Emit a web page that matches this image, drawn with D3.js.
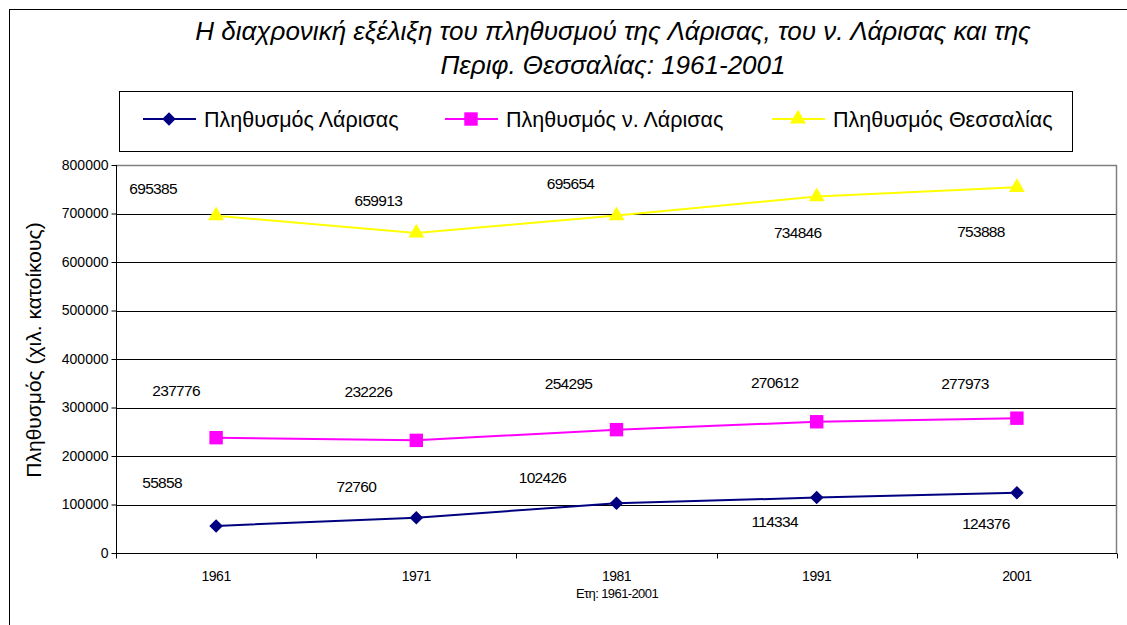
<!DOCTYPE html>
<html>
<head>
<meta charset="utf-8">
<script src="https://cdn.jsdelivr.net/npm/d3@7"></script>
<style>
  body { margin: 0; background: #fff; }
  svg text { font-family: "Liberation Sans", Arial, sans-serif; fill: #000; }
</style>
</head>
<body>
<div id="chart"></div>
<script>
// --- Data ---
const years = ["1961", "1971", "1981", "1991", "2001"];
const larisa = [55858, 72760, 102426, 114334, 124376];
const nomosLarisa = [237776, 232226, 254295, 270612, 277973];
const thessalia = [695385, 659913, 695654, 734846, 753888];
const seriesNames = ["Πληθυσμός Λάρισας", "Πληθυσμός ν. Λάρισας", "Πληθυσμός Θεσσαλίας"];
const yTicks = [0, 100000, 200000, 300000, 400000, 500000, 600000, 700000, 800000];

// label offsets (dx, dy) from each point, as placed in the original chart
const labelOffsets = [
    [[-54, -43], [-60, -31], [-74, -26], [-42, 24], [-31, 31]],
    [[-40, -47], [-48, -49], [-48, -46], [-42, -39], [-52, -35]],
    [[-63, -27], [-38, -32], [-46, -32], [-19, 36], [-36, 44]]
];

// --- Setup ---
const W = 1127, H = 625;
const plot = { left: 116, right: 1117, top: 165, bottom: 553 };
const colors = ["#000080", "#ff00ff", "#ffff00"];

// Excel-like markers: diamond = square turned 45deg
const diamond = d3.symbol().type(d3.symbolSquare).size(92);
const square = d3.symbol().type(d3.symbolSquare).size(180);
const triangle = d3.symbol().type(d3.symbolTriangle).size(110);
const markers = [
    { d: diamond(), rot: 45 },
    { d: square(), rot: 0 },
    { d: triangle(), rot: 0 }
];

const svg = d3.select("#chart").append("svg").attr("width", W).attr("height", H);

// outer frame (only top & left visible)
svg.append("line").attr("x1", 9).attr("x2", W).attr("y1", 9.5).attr("y2", 9.5).attr("stroke", "#000");
svg.append("line").attr("x1", 9.5).attr("x2", 9.5).attr("y1", 9).attr("y2", H).attr("stroke", "#000");

// --- Scales ---
const x = d3.scaleBand().domain(years).range([plot.left, plot.right]);
const y = d3.scaleLinear().domain([0, 800000]).range([plot.bottom, plot.top]);

// gridlines
svg.append("g").selectAll("line").data(yTicks.filter(d => d > 0 && d < 800000)).enter()
    .append("line")
    .attr("x1", plot.left).attr("x2", plot.right)
    .attr("y1", d => Math.round(y(d)) + 0.5).attr("y2", d => Math.round(y(d)) + 0.5)
    .attr("stroke", "#000");

// plot border (top & right gray)
svg.append("path")
    .attr("d", `M${plot.left},${plot.top + 0.5}H${plot.right - 0.5}V${plot.bottom}`)
    .attr("fill", "none").attr("stroke", "#808080").attr("stroke-width", 1.5);

// y axis
const yAxis = svg.append("g").attr("transform", `translate(${plot.left + 0.5},0)`)
    .call(d3.axisLeft(y).tickValues(yTicks).tickSize(5).tickPadding(3).tickFormat(d3.format("d")));
yAxis.selectAll("line, path").attr("stroke", "#000");
yAxis.select(".domain").attr("d", `M0,${plot.top}V${plot.bottom}`);
yAxis.selectAll("text").style("font-size", "14px").style("font-family", "Liberation Sans, Arial");

// x axis
const xAxis = svg.append("g").attr("transform", `translate(0,${plot.bottom + 0.5})`)
    .call(d3.axisBottom(x).tickSize(0).tickPadding(18));
xAxis.select(".domain").attr("stroke", "#000").attr("d", `M${plot.left},0H${plot.right}`);
xAxis.selectAll("text").style("font-size", "14px").style("font-family", "Liberation Sans, Arial").style("letter-spacing", "-0.5px");
// ticks between categories
const bounds = years.map(d => x(d)).concat([plot.right]);
xAxis.selectAll(".sep").data(bounds).enter().append("line")
    .attr("x1", d => Math.round(d) + 0.5).attr("x2", d => Math.round(d) + 0.5)
    .attr("y1", 0).attr("y2", 5).attr("stroke", "#000");

// axis titles
svg.append("text").attr("x", 617).attr("y", 598).attr("text-anchor", "middle")
    .style("font-size", "13px").style("letter-spacing", "-0.6px").text("Ετη: 1961-2001");
svg.append("text").attr("transform", "translate(41,350) rotate(-90)").attr("text-anchor", "middle")
    .style("font-size", "21px").text("Πληθυσμός (χιλ. κατοίκους)");

// title
svg.append("text").attr("x", 613).attr("y", 40).attr("text-anchor", "middle")
    .style("font-size", "26px").style("font-style", "italic")
    .text("Η διαχρονική εξέλιξη του πληθυσμού της Λάρισας, του ν. Λάρισας και της");
svg.append("text").attr("x", 613).attr("y", 74).attr("text-anchor", "middle")
    .style("font-size", "26px").style("font-style", "italic")
    .text("Περιφ. Θεσσαλίας: 1961-2001");

// --- Series ---
const allSeries = [larisa, nomosLarisa, thessalia];
const cx = i => x(years[i]) + x.bandwidth() / 2;
const line = d3.line().x((d, i) => cx(i)).y(d => y(d));

allSeries.forEach((vals, s) => {
    svg.append("path").datum(vals).attr("d", line)
        .attr("fill", "none").attr("stroke", colors[s]).attr("stroke-width", 2);
    svg.append("g").selectAll("path").data(vals).enter().append("path")
        .attr("d", markers[s].d)
        .attr("transform", (d, i) => `translate(${cx(i)},${y(d)}) rotate(${markers[s].rot})`)
        .attr("fill", colors[s]);
    svg.append("g").selectAll("text").data(vals).enter().append("text")
        .attr("x", (d, i) => cx(i) + labelOffsets[s][i][0])
        .attr("y", (d, i) => y(d) + labelOffsets[s][i][1])
        .attr("text-anchor", "middle").attr("dominant-baseline", "central")
        .style("font-size", "15.5px").style("letter-spacing", "-0.7px")
        .text(d => d);
});

// --- Legend ---
const legend = svg.append("g");
legend.append("rect").attr("x", 119.5).attr("y", 91.5).attr("width", 953).attr("height", 60)
    .attr("fill", "#fff").attr("stroke", "#000");
const legendX = [143, 445, 772];
seriesNames.forEach((name, s) => {
    const g = legend.append("g").attr("transform", `translate(${legendX[s]},119)`);
    g.append("line").attr("x1", 0).attr("x2", 53).attr("stroke", colors[s]).attr("stroke-width", 2);
    g.append("path").attr("d", markers[s].d)
        .attr("transform", `translate(26,0) rotate(${markers[s].rot})`).attr("fill", colors[s]);
    g.append("text").attr("x", 61).attr("y", 8).style("font-size", "21.5px").text(name);
});
</script>
</body>
</html>
